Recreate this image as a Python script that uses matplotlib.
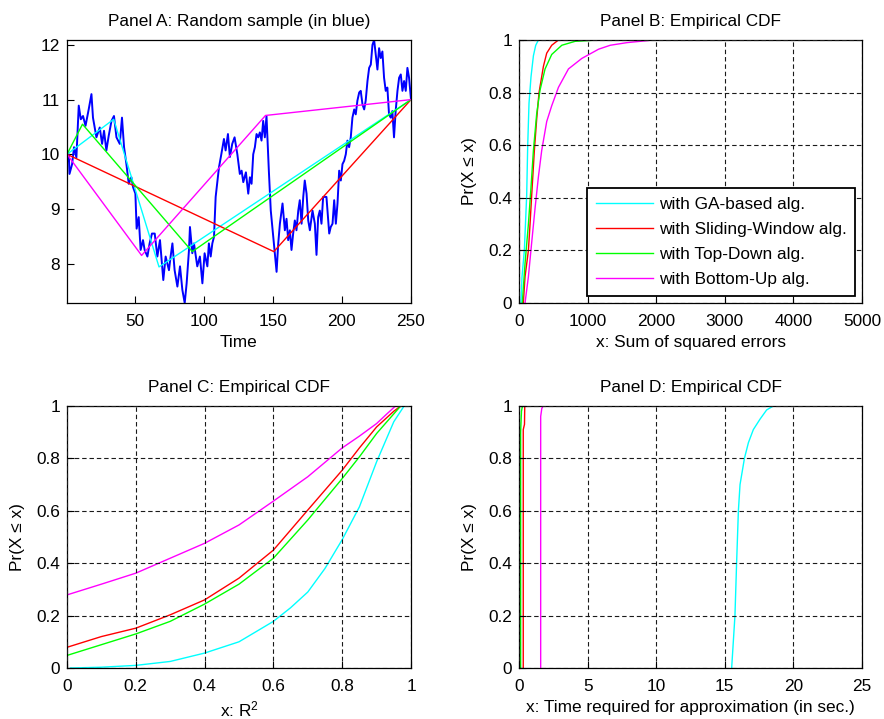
import matplotlib
matplotlib.use("Agg")
import matplotlib.pyplot as plt
from matplotlib.ticker import FormatStrFormatter

plt.rcParams['font.family'] = ['Liberation Sans', 'DejaVu Sans']
plt.rcParams['font.size'] = 12.4
plt.rcParams['mathtext.fontset'] = 'custom'
plt.rcParams['mathtext.rm'] = 'Liberation Sans'
plt.rcParams['mathtext.it'] = 'Liberation Sans:italic'

# ---------------- Panel A data ----------------
time_A = [1, 2.3, 2.8, 4.7, 6.1, 7.8, 9.5, 11.0, 12.6, 14.4,
          16.7, 18.7, 19.8, 22.3, 24.7, 26.4, 27.8, 29.5, 31.2, 33.2,
          35.0, 36.8, 39.2, 40.8, 42.3, 44.0, 45.7, 47.6, 48.8, 50.5,
          51.4, 52.9, 54.3, 56.0, 57.2, 59.2, 60.8, 62.5, 64.5, 66.4,
          68.3, 70.7, 72.4, 74.8, 76.0, 77.3, 78.9, 80.9, 82.8, 84.5,
          86.2, 87.6, 89.3, 90.0, 91.7, 92.9, 95.3, 97.2, 99.0, 100.6,
          102.6, 103.7, 105.0, 106.2, 107.4, 108.6, 111.0, 112.7, 114.6, 115.8,
          117.5, 118.9, 120.6, 122.3, 124.3, 126.1, 127.4, 128.6, 130.5, 132.2,
          133.4, 134.6, 135.8, 137.0, 138.2, 139.4, 140.6, 141.8, 143.0, 144.2,
          145.4, 147.1, 148.5, 150.3, 151.4, 152.7, 153.9, 155.1, 157.0, 158.7,
          159.9, 161.1, 162.3, 163.5, 164.7, 165.9, 167.1, 168.4, 169.5, 170.8,
          172.0, 173.1, 174.4, 175.6, 176.8, 178.7, 180.4, 181.6, 182.8, 184.0,
          185.2, 186.4, 188.8, 190.8, 191.9, 193.2, 194.4, 195.6, 196.8, 198.0,
          199.2, 200.4, 201.6, 202.8, 204.0, 205.2, 206.4, 207.6, 208.9, 210.0,
          211.2, 212.5, 213.6, 214.9, 216.1, 217.2, 218.5, 219.7, 220.9, 222.1,
          223.3, 224.5, 225.7, 226.9, 228.1, 229.3, 230.5, 231.7, 232.9, 234.1,
          235.3, 236.5, 237.7, 238.9, 240.2, 241.4, 242.6, 243.8, 245.0, 246.2,
          247.4, 248.6, 250]
sample_A = [9.85, 10.0, 9.64, 9.82, 10.13, 9.94, 10.89, 10.64, 10.70, 10.52,
            10.82, 11.10, 10.67, 10.31, 10.49, 10.19, 10.43, 10.07, 10.34, 10.61,
            10.70, 10.31, 10.19, 10.67, 10.13, 9.82, 9.46, 9.58, 9.40, 9.28,
            8.64, 8.85, 8.25, 8.43, 8.25, 8.13, 8.37, 8.55, 8.55, 8.13,
            8.43, 7.70, 8.13, 7.88, 8.13, 8.37, 7.88, 7.58, 7.95, 7.52,
            7.28, 7.64, 8.25, 8.67, 8.19, 8.37, 7.95, 8.13, 7.64, 8.19,
            7.95, 8.37, 8.13, 8.37, 8.49, 9.22, 9.76, 10.0, 10.28, 10.07,
            10.37, 9.95, 10.19, 10.31, 10.0, 9.64, 9.70, 9.49, 9.67, 9.28,
            9.58, 9.46, 10.0, 10.13, 10.37, 10.31, 10.40, 10.25, 10.61, 10.31,
            10.70, 9.70, 8.97, 8.49, 8.19, 7.85, 8.37, 8.73, 9.10, 8.61,
            8.82, 8.43, 8.61, 8.25, 8.55, 8.79, 8.61, 8.97, 9.16, 8.73,
            9.22, 9.52, 9.28, 8.79, 8.61, 8.97, 8.73, 8.16, 8.85, 8.97,
            8.73, 9.22, 9.22, 8.55, 8.67, 8.73, 9.16, 8.73, 9.10, 9.70,
            9.52, 9.82, 9.88, 10.0, 10.25, 10.13, 10.31, 10.67, 10.82, 10.73,
            10.98, 11.13, 11.16, 10.91, 10.82, 10.98, 11.34, 11.58, 11.64, 12.0,
            12.09, 11.82, 11.55, 11.94, 11.76, 11.88, 11.40, 11.16, 11.22, 10.73,
            10.67, 10.79, 10.31, 10.79, 11.16, 11.40, 11.46, 11.16, 11.34, 11.16,
            11.58, 11.40, 11.0]

ga_t = [1, 34.8, 67.6, 250]
ga_v = [10.0, 10.64, 7.94, 11.0]
sw_t = [1, 150.7, 250]
sw_v = [10.0, 8.22, 11.0]
td_t = [1, 12.2, 91.7, 250]
td_v = [10.0, 10.55, 8.22, 11.0]
bu_t = [1, 55.0, 144.7, 250]
bu_v = [10.0, 8.15, 10.71, 11.0]

# ---------------- Panel B data (sum of squared errors) ----------------
sse_ga_x = [29, 44, 78, 112, 127, 146, 175, 210, 244, 283, 520]
sse_ga_p = [0, 0.10, 0.20, 0.41, 0.60, 0.76, 0.86, 0.94, 0.98, 1.0, 1.0]
sse_sw_x = [63, 88, 137, 161, 185, 224, 258, 292, 356, 404, 477, 575, 870]
sse_sw_p = [0, 0.10, 0.20, 0.30, 0.41, 0.58, 0.70, 0.80, 0.90, 0.95, 0.98, 1.0, 1.0]
sse_td_x = [48, 88, 137, 175, 210, 258, 307, 380, 477, 624, 819, 1160, 1350]
sse_td_p = [0, 0.15, 0.30, 0.44, 0.58, 0.72, 0.81, 0.89, 0.945, 0.98, 0.995, 1.0, 1.0]
sse_bu_x = [88, 137, 185, 234, 283, 331, 404, 477, 575, 721, 916, 1160, 1330, 1574, 1960, 4330]
sse_bu_p = [0, 0.10, 0.23, 0.36, 0.48, 0.58, 0.69, 0.75, 0.82, 0.89, 0.93, 0.965, 0.98, 0.99, 1.0, 1.0]

# ---------------- Panel C data (R^2) ----------------
r2_ga_x = [0.01, 0.1, 0.2, 0.3, 0.4, 0.5, 0.6, 0.65, 0.7, 0.75, 0.8, 0.85, 0.9, 0.95, 0.98, 0.99]
r2_ga_p = [0.0, 0.003, 0.01, 0.025, 0.057, 0.10, 0.178, 0.23, 0.29, 0.38, 0.49, 0.615, 0.787, 0.94, 1.0, 1.0]
r2_sw_x = [0, 0.1, 0.2, 0.3, 0.4, 0.5, 0.6, 0.7, 0.8, 0.85, 0.9, 0.95, 0.97, 0.99]
r2_sw_p = [0.079, 0.12, 0.152, 0.203, 0.26, 0.343, 0.45, 0.603, 0.755, 0.84, 0.92, 0.98, 1.0, 1.0]
r2_td_x = [0, 0.1, 0.2, 0.3, 0.4, 0.5, 0.6, 0.7, 0.8, 0.85, 0.9, 0.95, 0.97, 0.99]
r2_td_p = [0.048, 0.089, 0.13, 0.178, 0.244, 0.32, 0.419, 0.565, 0.723, 0.806, 0.895, 0.97, 1.0, 1.0]
r2_bu_x = [0, 0.1, 0.2, 0.3, 0.4, 0.5, 0.6, 0.7, 0.8, 0.85, 0.9, 0.93, 0.955, 0.99]
r2_bu_p = [0.279, 0.32, 0.362, 0.419, 0.476, 0.546, 0.637, 0.73, 0.84, 0.885, 0.933, 0.97, 1.0, 1.0]

# ---------------- Panel D data (time) ----------------
tm_ga_x = [15.5, 15.74, 15.86, 15.99, 16.11, 16.43, 16.72, 17.08, 17.57, 18.05, 18.54, 22.6]
tm_ga_p = [0, 0.2, 0.4, 0.6, 0.7, 0.8, 0.86, 0.91, 0.95, 0.985, 1.0, 1.0]
tm_sw_x = [0.31, 0.31, 0.40, 0.42, 0.5]
tm_sw_p = [0, 0.91, 0.93, 1.0, 1.0]
tm_td_x = [0.12, 0.12, 0.18, 0.25]
tm_td_p = [0, 0.9, 0.98, 1.0]
tm_bu_x = [1.58, 1.58, 1.66, 1.75, 2.5]
tm_bu_p = [0, 0.96, 0.99, 1.0, 1.0]

legend_labels = ['with GA-based alg.', 'with Sliding-Window alg.',
                 'with Top-Down alg.', 'with Bottom-Up alg.']
colors = ['#00FFFF', '#FF0000', '#00FF00', '#FF00FF']

W, H = 884, 719
fig = plt.figure(figsize=(W / 100, H / 100), dpi=100)


def ax_at(l, r, t, b):
    return fig.add_axes([l / W, 1 - b / H, (r - l) / W, (b - t) / H])


axA = ax_at(67, 411, 40, 303)
axB = ax_at(519, 862, 40, 303)
axC = ax_at(67, 411, 406, 668)
axD = ax_at(519, 862, 406, 668)

TITLE_PAD = 10
XLAB_PAD = 4
YLAB_PAD = 8


def style(ax, grid=True):
    for s in ax.spines.values():
        s.set_color('black')
        s.set_linewidth(0.9)
    ax.tick_params(direction='in', length=5, width=0.8, colors='black')
    ax.tick_params(axis='x', pad=8)
    ax.tick_params(axis='y', pad=5)
    if grid:
        ax.grid(True, color='#1a1a1a', linestyle=(0, (4, 2.6)), linewidth=0.8)
        ax.set_axisbelow(False)


# Panel A
axA.plot(time_A, sample_A, color='#0000FF', lw=1.4)
axA.plot(ga_t, ga_v, color=colors[0], lw=1.0)
axA.plot(sw_t, sw_v, color=colors[1], lw=1.0)
axA.plot(td_t, td_v, color=colors[2], lw=1.0)
axA.plot(bu_t, bu_v, color=colors[3], lw=1.0)
axA.set_xlim(1, 250)
axA.set_ylim(min(sample_A), max(sample_A))
axA.set_xticks([50, 100, 150, 200, 250])
axA.set_yticks([8, 9, 10, 11, 12])
axA.set_title('Panel A: Random sample (in blue)', fontsize=12.4, pad=TITLE_PAD)
axA.set_xlabel('Time', labelpad=XLAB_PAD)
style(axA, grid=False)

ylab = 'Pr(X \u2264 x)'

# Panel B
for xs, ps, c, lab in zip([sse_ga_x, sse_sw_x, sse_td_x, sse_bu_x],
                          [sse_ga_p, sse_sw_p, sse_td_p, sse_bu_p], colors, legend_labels):
    axB.plot(xs, ps, color=c, lw=1.0, label=lab)
axB.set_xlim(0, 5000)
axB.set_ylim(0, 1)
axB.set_xticks([0, 1000, 2000, 3000, 4000, 5000])
axB.set_yticks([0, 0.2, 0.4, 0.6, 0.8, 1])
axB.yaxis.set_major_formatter(FormatStrFormatter('%g'))
axB.set_title('Panel B: Empirical CDF', fontsize=12.4, pad=TITLE_PAD)
axB.set_xlabel('x: Sum of squared errors', labelpad=XLAB_PAD)
axB.set_ylabel(ylab, labelpad=YLAB_PAD)
style(axB)
leg = axB.legend(loc='lower right', bbox_to_anchor=(0.98, 0.028), borderaxespad=0,
                 fancybox=False, framealpha=1, edgecolor='black', handlelength=3.3,
                 handletextpad=0.35, borderpad=0.5, labelspacing=0.58, fontsize=12.4)
leg.get_frame().set_linewidth(1.3)

# Panel C
for xs, ps, c in zip([r2_ga_x, r2_sw_x, r2_td_x, r2_bu_x],
                     [r2_ga_p, r2_sw_p, r2_td_p, r2_bu_p], colors):
    axC.plot(xs, ps, color=c, lw=1.0)
axC.set_xlim(0, 1)
axC.set_ylim(0, 1)
axC.set_xticks([0, 0.2, 0.4, 0.6, 0.8, 1])
axC.set_yticks([0, 0.2, 0.4, 0.6, 0.8, 1])
axC.xaxis.set_major_formatter(FormatStrFormatter('%g'))
axC.yaxis.set_major_formatter(FormatStrFormatter('%g'))
axC.set_title('Panel C: Empirical CDF', fontsize=12.4, pad=TITLE_PAD)
axC.set_xlabel('x: R$^2$', labelpad=XLAB_PAD)
axC.set_ylabel(ylab, labelpad=YLAB_PAD)
style(axC)

# Panel D
for xs, ps, c in zip([tm_ga_x, tm_sw_x, tm_td_x, tm_bu_x],
                     [tm_ga_p, tm_sw_p, tm_td_p, tm_bu_p], colors):
    axD.plot(xs, ps, color=c, lw=1.0)
axD.set_xlim(0, 25)
axD.set_ylim(0, 1)
axD.set_xticks([0, 5, 10, 15, 20, 25])
axD.set_yticks([0, 0.2, 0.4, 0.6, 0.8, 1])
axD.yaxis.set_major_formatter(FormatStrFormatter('%g'))
axD.set_title('Panel D: Empirical CDF', fontsize=12.4, pad=TITLE_PAD)
axD.set_xlabel('x: Time required for approximation (in sec.)', labelpad=XLAB_PAD)
axD.set_ylabel(ylab, labelpad=YLAB_PAD)
style(axD)

fig.savefig('out.png', dpi=100, facecolor='white')
